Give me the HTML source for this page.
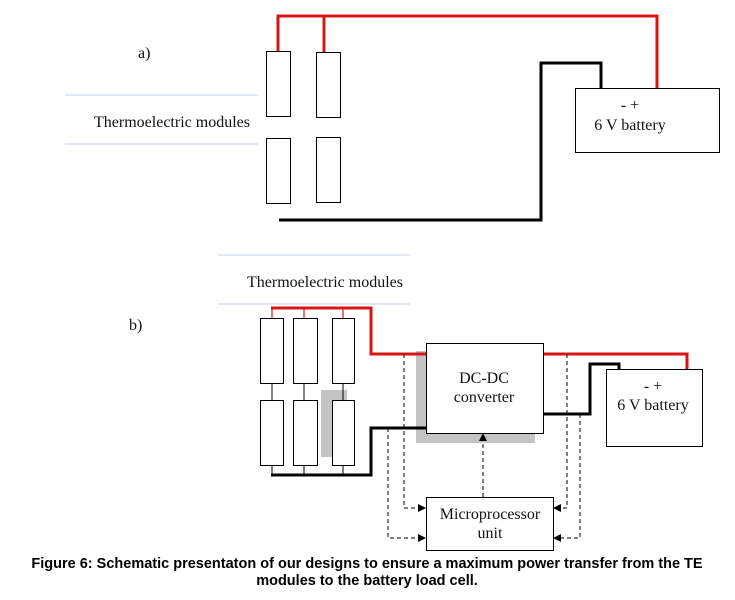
<!DOCTYPE html>
<html><head><style>
body{margin:0;background:#fff;width:735px;height:600px;overflow:hidden}
svg{display:block}
.t{font-family:"Liberation Serif",serif;font-size:16px;fill:#111}
.c{font-family:"Liberation Sans",sans-serif;font-size:14.5px;font-weight:bold;fill:#000}
</style></head><body>
<svg width="735" height="600" viewBox="0 0 735 600">
<defs><marker id="ar" markerWidth="8" markerHeight="8" refX="7" refY="4" orient="auto" markerUnits="userSpaceOnUse"><path d="M0,0 L8,4 L0,8 z" fill="#000"/></marker></defs>
<line x1="65" y1="95" x2="258" y2="95" stroke="#c5d3e6" stroke-width="1"/>
<line x1="65" y1="144" x2="258" y2="144" stroke="#c5d3e6" stroke-width="1"/>
<text class="t" x="138" y="58">a)</text>
<text class="t" x="172" y="127" text-anchor="middle">Thermoelectric modules</text>
<polyline points="278,51 278,16 657,16 657,88" fill="none" stroke="#d81414" stroke-width="3"/>
<line x1="324" y1="16" x2="324" y2="52" stroke="#d81414" stroke-width="3"/>
<polyline points="279,220 541,220 541,63 601,63 601,88" fill="none" stroke="#000" stroke-width="3"/>
<g fill="#fff" stroke="#000" stroke-width="1">
<rect x="266.5" y="51.5" width="24" height="65"/>
<rect x="316.5" y="52.5" width="24" height="65"/>
<rect x="266.5" y="138.5" width="24" height="65"/>
<rect x="316.5" y="137.5" width="24" height="65"/>
<rect x="575.5" y="88.5" width="144" height="64"/>
</g>
<text class="t" x="630" y="110" text-anchor="middle">- +</text>
<text class="t" x="630" y="130" text-anchor="middle">6 V battery</text>
<line x1="218" y1="255" x2="410" y2="255" stroke="#c5d3e6"/>
<line x1="218" y1="304" x2="410" y2="304" stroke="#c5d3e6"/>
<text class="t" x="325" y="287" text-anchor="middle">Thermoelectric modules</text>
<text class="t" x="129" y="330">b)</text>
<rect x="416" y="351" width="119" height="92" fill="#c4c4c4"/>
<rect x="321" y="390" width="26" height="67" fill="#c4c4c4"/>
<g stroke="#d81414" stroke-width="1.2"><line x1="272" y1="308" x2="272" y2="318"/><line x1="304" y1="308" x2="304" y2="318"/><line x1="343" y1="308" x2="343" y2="318"/></g>
<g stroke="#000" stroke-width="1"><line x1="272" y1="383" x2="272" y2="400"/><line x1="304" y1="383" x2="304" y2="400"/><line x1="343" y1="383" x2="343" y2="400"/>
<line x1="272" y1="465" x2="272" y2="475"/><line x1="304" y1="465" x2="304" y2="475"/><line x1="343" y1="465" x2="343" y2="475"/></g>
<polyline points="271,308 371,308 371,354 426,354" fill="none" stroke="#d81414" stroke-width="3"/>
<polyline points="543,354 687,354 687,369" fill="none" stroke="#d81414" stroke-width="3"/>
<polyline points="271,475 371,475 371,428 426,428" fill="none" stroke="#000" stroke-width="3"/>
<polyline points="543,414 590,414 590,364 619,364 619,369" fill="none" stroke="#000" stroke-width="3"/>
<g fill="#fff" stroke="#000" stroke-width="1">
<rect x="260.5" y="318.5" width="23" height="65"/>
<rect x="293.5" y="318.5" width="24" height="65"/>
<rect x="332.5" y="318.5" width="22" height="65"/>
<rect x="260.5" y="400.5" width="23" height="65"/>
<rect x="293.5" y="400.5" width="24" height="65"/>
<rect x="332.5" y="400.5" width="22" height="65"/>
<rect x="426.5" y="343.5" width="117" height="90"/>
<rect x="606.5" y="369.5" width="96" height="77"/>
<rect x="426.5" y="497.5" width="127" height="53"/>
</g>
<text class="t" x="484" y="383" text-anchor="middle">DC-DC</text>
<text class="t" x="484" y="402" text-anchor="middle">converter</text>
<text class="t" x="653" y="391" text-anchor="middle">- +</text>
<text class="t" x="653" y="410" text-anchor="middle">6 V battery</text>
<text class="t" x="490" y="519" text-anchor="middle">Microprocessor</text>
<text class="t" x="490" y="538" text-anchor="middle">unit</text>
<g fill="none" stroke="#000" stroke-width="1" stroke-dasharray="4,3">
<polyline points="404,354 404,508 425,508" marker-end="url(#ar)"/>
<polyline points="388,428 388,538 425,538" marker-end="url(#ar)"/>
<polyline points="567,354 567,508 554,508" marker-end="url(#ar)"/>
<polyline points="580,414 580,538 554,538" marker-end="url(#ar)"/>
<polyline points="483,497 483,434" marker-end="url(#ar)"/>
</g>
<text class="c" x="367" y="568" text-anchor="middle">Figure 6: Schematic presentaton of our designs to ensure a maximum power transfer from the TE</text>
<text class="c" x="367" y="585" text-anchor="middle">modules to the battery load cell.</text>
</svg>
</body></html>
